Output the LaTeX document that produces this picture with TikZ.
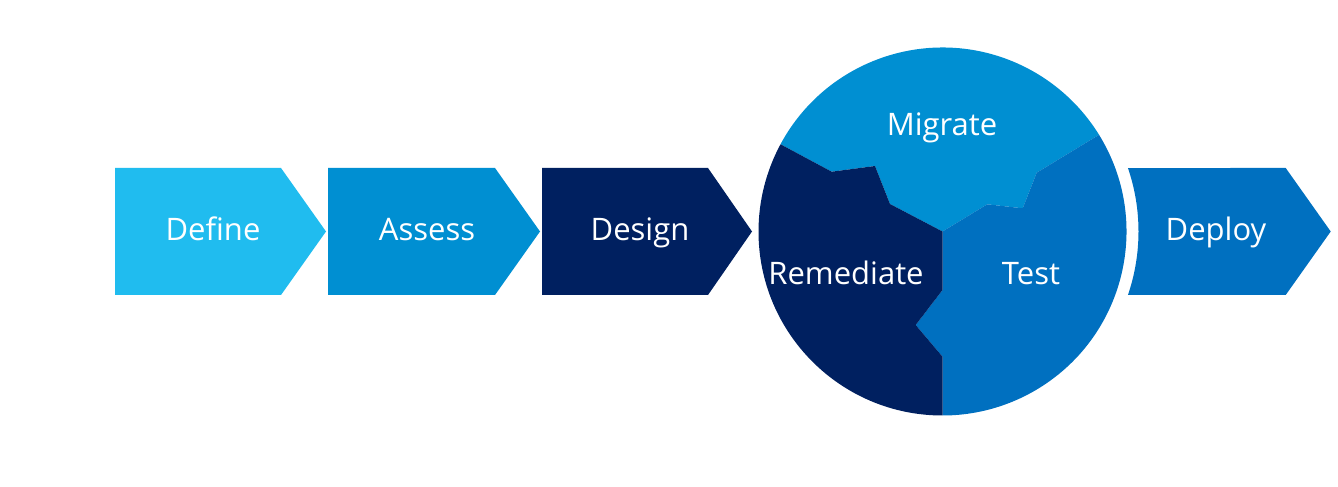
\documentclass[tikz,border=0pt]{standalone}
\usepackage{fontspec}
\setmainfont{Open Sans}
\usetikzlibrary{calc}
\definecolor{cLight}{RGB}{32,188,239}
\definecolor{cMid}{RGB}{0,143,210}
\definecolor{cNavy}{RGB}{0,32,96}
\definecolor{cBlue}{RGB}{0,112,192}
\begin{document}
\begin{tikzpicture}[x=1pt,y=1pt,
  lbl/.style={text=white,font=\fontsize{31}{36}\selectfont,inner sep=0pt,anchor=base}]
\useasboundingbox[fill=white] (0,0) rectangle (1338,487);
\coordinate (C) at (942.5,255.5);
% chevrons
\fill[cLight] (115,319) -- (281,319) -- (326,255.5) -- (281,192) -- (115,192) -- cycle;
\fill[cMid] (328,319) -- (495,319) -- (540,255.5) -- (495,192) -- (328,192) -- cycle;
\fill[cNavy] (542,319) -- (708,319) -- (752,255.5) -- (708,192) -- (542,192) -- cycle;
\fill[cBlue] ($(C)+(18.9:196)$) -- (1285.7,319) -- (1330.7,255.5) -- (1285.7,192) -- ($(C)+(-18.9:196)$) arc[start angle=-18.9,end angle=18.9,radius=196] -- cycle;
% puzzle circle
\coordinate (A) at ($(C)+(151.7:184)$);
\coordinate (B) at ($(C)+(31.7:184)$);
\coordinate (D) at ($(C)+(270:184)$);
\coordinate (m1) at (831.7,315.3);
\coordinate (m2) at (875,321);
\coordinate (m3) at (890,283);
\coordinate (t1) at (987.3,282.7);
\coordinate (t2) at (1022.7,278.7);
\coordinate (t3) at (1036.7,314.3);
\coordinate (r1) at (942.5,197);
\coordinate (r2) at (915.7,162);
\coordinate (r3) at (942.5,130.3);
\fill[cMid] (A) arc[start angle=151.7,end angle=31.7,radius=184] -- (t3) -- (t2) -- (t1) -- (C) -- (m3) -- (m2) -- (m1) -- cycle;
\fill[cBlue] (B) arc[start angle=31.7,end angle=-90,radius=184] -- (r3) -- (r2) -- (r1) -- (C) -- (t1) -- (t2) -- (t3) -- cycle;
\fill[cNavy] (D) arc[start angle=270,end angle=151.7,radius=184] -- (m1) -- (m2) -- (m3) -- (C) -- (r1) -- (r2) -- (r3) -- cycle;
% labels
\node[lbl] (define) at (213,246.3) {Define};
\node[lbl] (assess) at (427,246.3) {Assess};
\node[lbl] (design) at (640,246.3) {Design};
\node[lbl] (deploy) at (1216,246.3) {Deploy};
\node[lbl] (migrate) at (942,351.3) {Migrate};
\node[lbl] (remediate) at (846,202.7) {Remediate};
\node[lbl] (test) at (1031,202.7) {Test};
\end{tikzpicture}
\end{document}
